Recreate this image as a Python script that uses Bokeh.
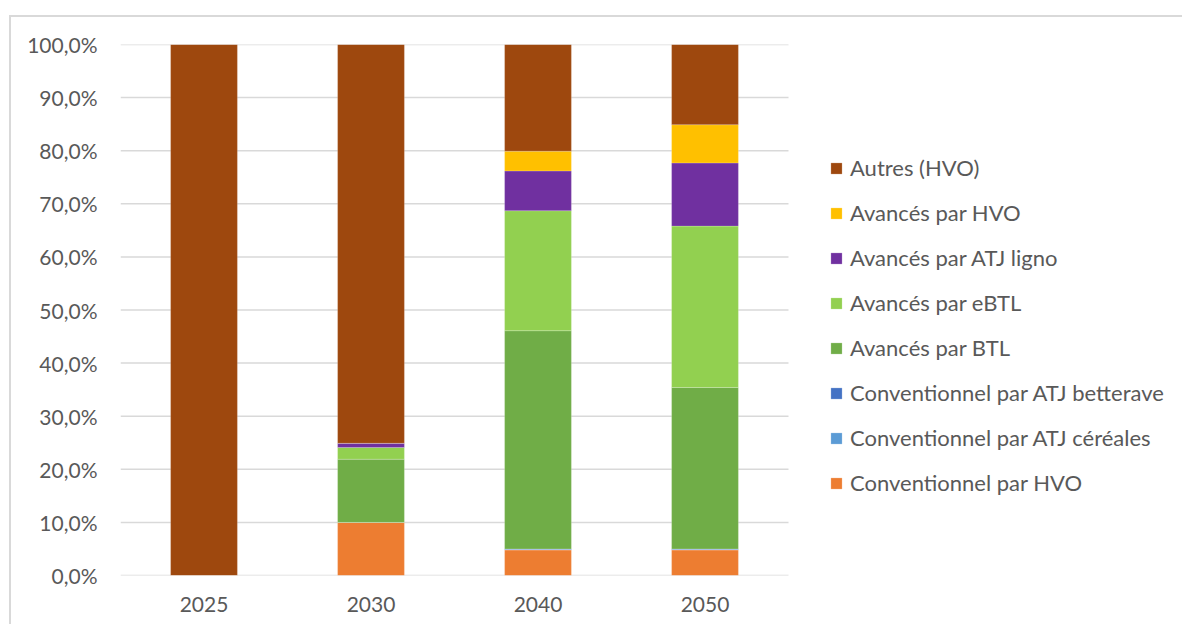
from bokeh.plotting import figure
from bokeh.models import (ColumnDataSource, Legend, LegendItem, FixedTicker,
                          CustomJSTickFormatter, Range1d)
from bokeh.embed import file_html
from bokeh.resources import INLINE

years = ["2025", "2030", "2040", "2050"]
series = ["Conventionnel par HVO", "Conventionnel par ATJ céréales",
          "Conventionnel par ATJ betterave", "Avancés par BTL",
          "Avancés par eBTL", "Avancés par ATJ ligno", "Avancés par HVO",
          "Autres (HVO)"]
conv_hvo = [0.0, 10.0, 4.8, 4.8]
conv_atj_cereales = [0.0, 0.0, 0.1, 0.1]
conv_atj_betterave = [0.0, 0.0, 0.1, 0.1]
av_btl = [0.0, 11.9, 41.1, 30.4]
av_ebtl = [0.0, 2.2, 22.6, 30.4]
av_atj_ligno = [0.0, 0.8, 7.5, 11.9]
av_hvo = [0.0, 0.0, 3.7, 7.2]
autres = [100.0, 75.1, 20.1, 15.1]
y_ticks = [0, 10, 20, 30, 40, 50, 60, 70, 80, 90, 100]

colors = ["#ED7D31", "#5B9BD5", "#4472C4", "#70AD47", "#92D050",
          "#7030A0", "#FFC000", "#9E480E"]
keys = ["s0", "s1", "s2", "s3", "s4", "s5", "s6", "s7"]
values = [conv_hvo, conv_atj_cereales, conv_atj_betterave, av_btl, av_ebtl,
          av_atj_ligno, av_hvo, autres]

n = len(years)
xpos = [i + 0.5 for i in range(n)]
data = {"x": xpos, "year": years}
for k, v in zip(keys, values):
    data[k] = v
source = ColumnDataSource(data)

FONT = "Lato"
GRAY = "#595959"

FIG_W, FIG_H = 1173, 609
LEFT, TOP, PLOT_W, PLOT_H = 109, 27, 668, 531
FRAME_W = FIG_W - LEFT

p = figure(width=FIG_W, height=FIG_H,
           x_range=Range1d(0, n * FRAME_W / PLOT_W), y_range=Range1d(0, 100),
           min_border_left=LEFT, min_border_top=TOP,
           min_border_bottom=FIG_H - TOP - PLOT_H, min_border_right=0,
           output_backend="svg", toolbar_location=None)
p.styles = {"margin-left": "9px", "margin-top": "15px",
            "border-left": "2px solid #d9d9d9",
            "border-top": "2px solid #d9d9d9"}

# horizontal gridlines over the category area only
p.segment(x0=[0] * len(y_ticks), x1=[n] * len(y_ticks), y0=y_ticks,
          y1=y_ticks, line_color="#d9d9d9", line_width=1.5)

renderers = p.vbar_stack(keys, x="x", width=0.4, color=colors,
                         line_color="white", line_alpha=0.4, line_width=0.5,
                         source=source)

p.xgrid.grid_line_color = None
p.ygrid.grid_line_color = None
p.outline_line_color = None
p.background_fill_color = "white"
p.border_fill_color = "white"

p.yaxis.ticker = FixedTicker(ticks=y_ticks)
p.yaxis.formatter = CustomJSTickFormatter(
    code="return tick.toFixed(1).replace('.', ',') + '%';")
p.xaxis.ticker = FixedTicker(ticks=xpos)
p.xaxis.major_label_overrides = {x: y for x, y in zip(xpos, years)}
for ax in (p.xaxis[0], p.yaxis[0]):
    ax.axis_line_color = None
    ax.major_tick_line_color = None
    ax.minor_tick_line_color = None
    ax.major_label_text_font = FONT
    ax.major_label_text_font_size = "21px"
    ax.major_label_text_color = GRAY
p.yaxis.major_label_standoff = 17
p.xaxis.major_label_standoff = 15

items = [LegendItem(label=series[i], renderers=[renderers[i]])
         for i in reversed(range(len(series)))]
legend = Legend(items=items, location=(709, 79), orientation="vertical",
                label_text_font=FONT, label_text_font_size="22px",
                label_text_color=GRAY, glyph_width=14, glyph_height=14,
                label_height=20, spacing=18, padding=0, margin=0,
                label_standoff=7, border_line_color=None,
                background_fill_alpha=0)
p.add_layout(legend, "center")

open("out.html", "w").write(file_html(p, INLINE))
